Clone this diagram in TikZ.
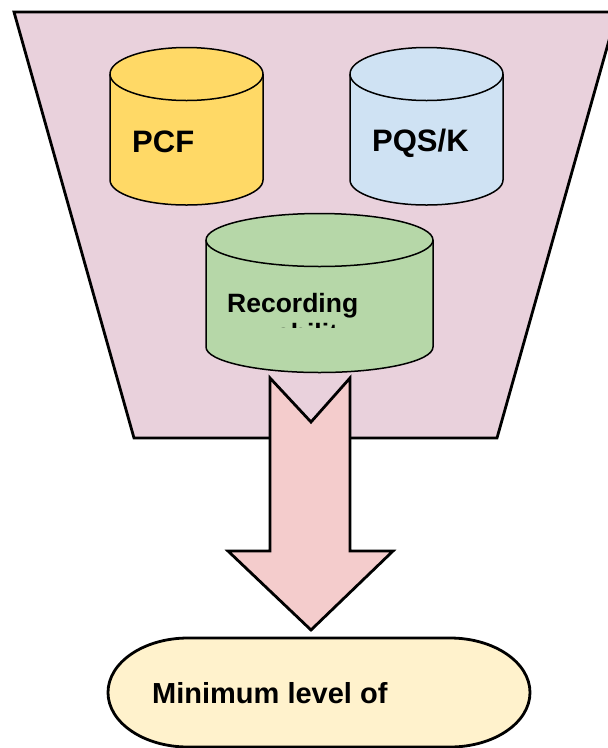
\documentclass[tikz,border=0pt]{standalone}
\usepackage{fontspec}
\setmainfont{Liberation Sans}
\definecolor{funnelfill}{HTML}{E9D1DC}
\definecolor{pcffill}{HTML}{FFD966}
\definecolor{pqsfill}{HTML}{CFE2F3}
\definecolor{recfill}{HTML}{B6D7A8}
\definecolor{arrowfill}{HTML}{F4CCCC}
\definecolor{goalfill}{HTML}{FFF2CC}
\begin{document}
\begin{tikzpicture}[x=1pt,y=-1pt,
  thickline/.style={draw=black,line width=2.8pt,line join=miter},
  cylline/.style={draw=black,line width=1.5pt},
  lbl/.style={inner sep=0pt,anchor=base west,font=\bfseries}]
\useasboundingbox (0,0) rectangle (608,748);
% funnel
\path[thickline,fill=funnelfill] (14,12) -- (617,12) -- (497,438) -- (134,438) -- cycle;
% PCF cylinder
\path[cylline,fill=pcffill] (110,74) -- (110,180) arc[start angle=180,end angle=0,x radius=76.5,y radius=25]
  -- (263,74) arc[start angle=0,end angle=-180,x radius=76.5,y radius=26.5] -- cycle;
\draw[cylline] (110,74) arc[start angle=180,end angle=0,x radius=76.5,y radius=26.5];
\node[lbl,font=\bfseries\fontsize{31}{36}\selectfont] (pcf) at (132,152) {PCF};
% PQS/K cylinder
\path[cylline,fill=pqsfill] (350,74) -- (350,180) arc[start angle=180,end angle=0,x radius=76.5,y radius=25]
  -- (503,74) arc[start angle=0,end angle=-180,x radius=76.5,y radius=26.5] -- cycle;
\draw[cylline] (350,74) arc[start angle=180,end angle=0,x radius=76.5,y radius=26.5];
\node[lbl,font=\bfseries\fontsize{31}{36}\selectfont] (pqs) at (372,151) {PQS/K};
% Recording cylinder
\path[cylline,fill=recfill] (206,240) -- (206,347) arc[start angle=180,end angle=0,x radius=113.5,y radius=25.5]
  -- (433,240) arc[start angle=0,end angle=-180,x radius=113.5,y radius=26.5] -- cycle;
\draw[cylline] (206,240) arc[start angle=180,end angle=0,x radius=113.5,y radius=26.5];
\node[lbl,font=\bfseries\fontsize{26.5}{30}\selectfont] (rec) at (227,312) {Recording};
\begin{scope}
\clip (206,300) rectangle (433,327.5);
\node[lbl,font=\bfseries\fontsize{26.5}{30}\selectfont] (recb) at (276,342) {ability};
\end{scope}
% big arrow
\path[thickline,fill=arrowfill] (270,378) -- (311,422) -- (350,378) -- (350,551) -- (393,551)
  -- (311,630) -- (228,551) -- (270,551) -- cycle;
% goal stadium
\path[thickline,fill=goalfill] (188,638) -- (450,638)
  arc[start angle=-90,end angle=90,x radius=80,y radius=54.5]
  -- (188,747) arc[start angle=90,end angle=270,x radius=80,y radius=54.5] -- cycle;
\node[lbl,font=\bfseries\fontsize{29}{33}\selectfont] (goal) at (152,703) {Minimum level of};
\end{tikzpicture}
\end{document}
